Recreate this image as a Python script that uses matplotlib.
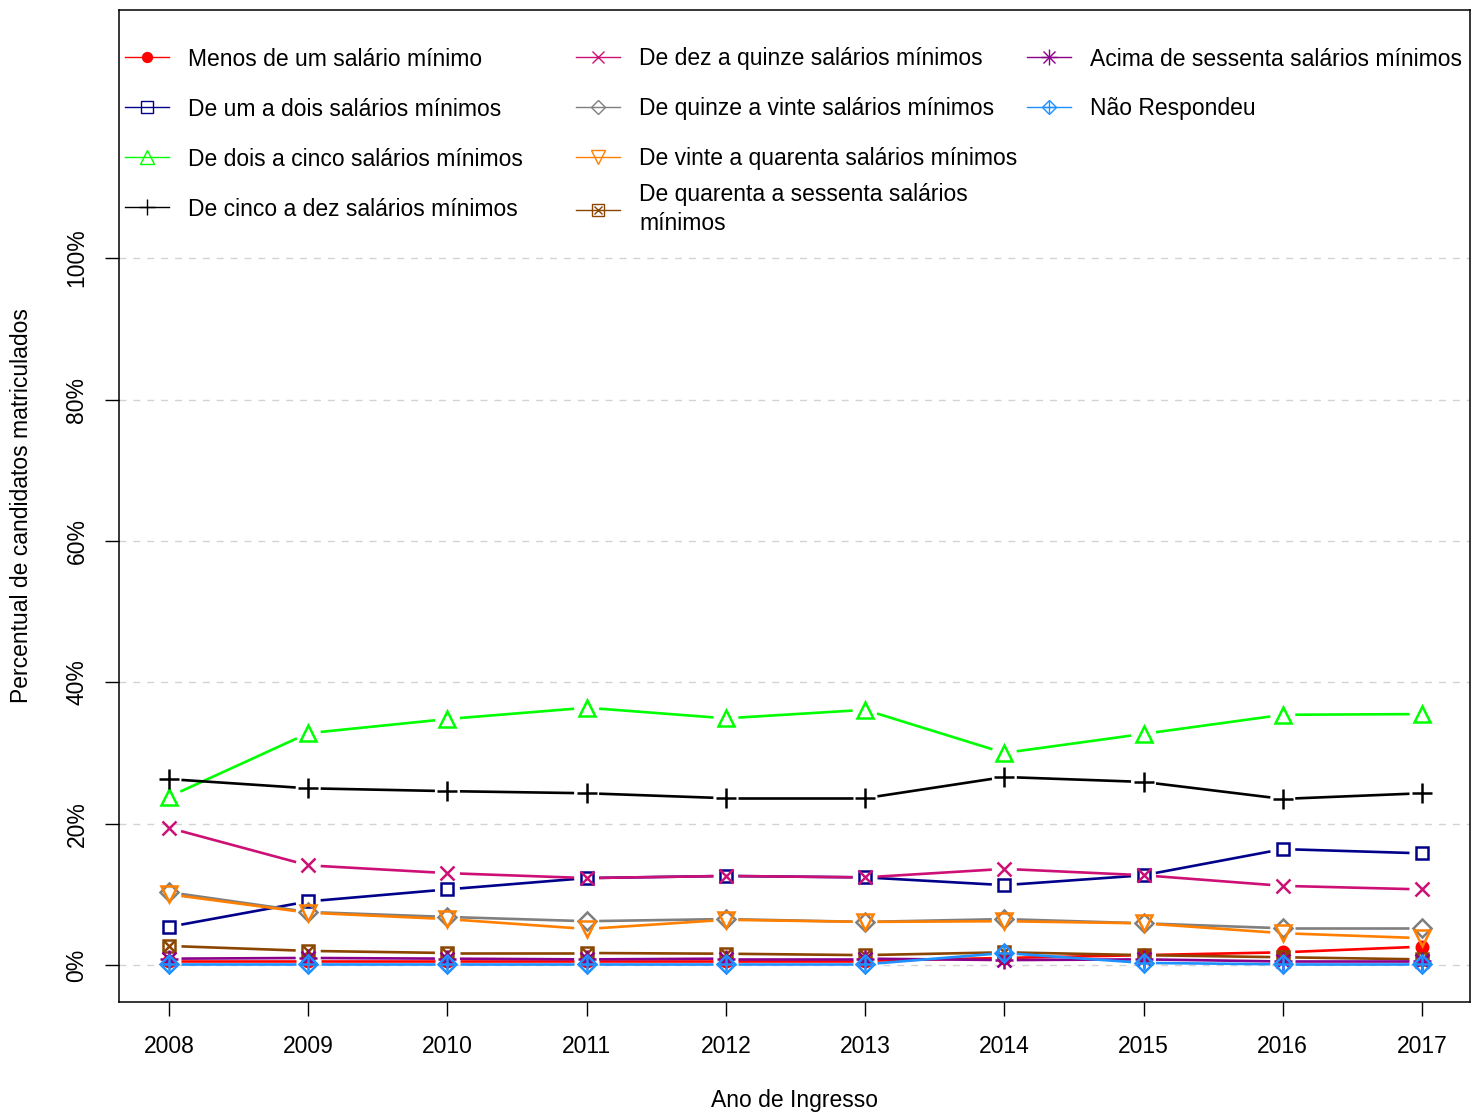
import numpy as np
import matplotlib
matplotlib.use("Agg")
import matplotlib.pyplot as plt
from matplotlib.lines import Line2D

plt.rcParams['font.family'] = ['Liberation Sans', 'DejaVu Sans']

# ---- dados ----
anos = [2008, 2009, 2010, 2011, 2012, 2013, 2014, 2015, 2016, 2017]

faixas = [
    "Menos de um salário mínimo",
    "De um a dois salários mínimos",
    "De dois a cinco salários mínimos",
    "De cinco a dez salários mínimos",
    "De dez a quinze salários mínimos",
    "De quinze a vinte salários mínimos",
    "De vinte a quarenta salários mínimos",
    "De quarenta a sessenta salários\nmínimos",
    "Acima de sessenta salários mínimos",
    "Não Respondeu",
]

menos_um = [0.6, 0.6, 0.6, 0.6, 0.6, 0.6, 1.0, 1.4, 1.8, 2.6]
um_dois = [5.4, 9.0, 10.7, 12.3, 12.6, 12.4, 11.3, 12.7, 16.4, 15.8]
dois_cinco = [23.8, 32.8, 34.8, 36.4, 34.9, 36.1, 30.0, 32.7, 35.4, 35.5]
cinco_dez = [26.3, 25.0, 24.6, 24.3, 23.6, 23.6, 26.6, 25.9, 23.5, 24.3]
dez_quinze = [19.4, 14.1, 13.0, 12.3, 12.6, 12.4, 13.6, 12.7, 11.2, 10.7]
quinze_vinte = [10.3, 7.5, 6.8, 6.2, 6.5, 6.1, 6.5, 5.9, 5.2, 5.2]
vinte_quarenta = [10.0, 7.4, 6.5, 5.1, 6.4, 6.1, 6.2, 5.9, 4.5, 3.8]
quarenta_sessenta = [2.7, 2.0, 1.7, 1.7, 1.6, 1.4, 1.8, 1.4, 1.1, 0.8]
acima_sessenta = [0.9, 1.0, 0.9, 0.8, 0.9, 0.9, 0.7, 0.8, 0.5, 0.5]
nao_respondeu = [0.1, 0.1, 0.1, 0.1, 0.1, 0.1, 1.7, 0.3, 0.1, 0.1]

series = [menos_um, um_dois, dois_cinco, cinco_dez, dez_quinze,
          quinze_vinte, vinte_quarenta, quarenta_sessenta, acima_sessenta, nao_respondeu]

cores = ["#FF0000", "#00008B", "#00FF00", "#000000", "#CD1076",
         "#7F7F7F", "#FF7F00", "#8B4500", "#8B008B", "#1E90FF"]

# simbolos estilo R (pch 16, 0, 2, 3, 4, 5, 6, 7, 8, 9): lista de (marker, escala)
simbolos = [
    [("o", 0.75)],
    [("s", 0.85)],
    [("^", 1.0)],
    [("+", 1.25)],
    [("x", 0.95)],
    [("D", 0.8)],
    [("v", 1.0)],
    [("s", 0.85), ("x", 0.6)],
    [("+", 1.2), ("x", 0.9)],
    [("D", 0.8), ("+", 0.9)],
]

# ---- figura ----
fig = plt.figure(figsize=(14.71, 11.14), dpi=100)
ax = fig.add_axes([119 / 1471, 1 - 1002 / 1114, (1470 - 119) / 1471, (1002 - 10) / 1114])
ax.set_xlim(2007.641, 2017.345)
ax.set_ylim(-5.23, 135.1)

for v in [0, 20, 40, 60, 80, 100]:
    ax.axhline(v, color="#D3D3D3", lw=1, ls=(0, (5, 5)), zorder=0)

ms_base = 11
gap = 12.5  # pixels de espaço entre linha e marcador (type = "b")


def segmentos_com_gap(xs, ys):
    tr = ax.transData
    pts = tr.transform(np.column_stack([xs, ys]))
    segs = []
    for p0, p1 in zip(pts[:-1], pts[1:]):
        d = p1 - p0
        L = np.hypot(*d)
        if L <= 2 * gap:
            continue
        u = d / L
        segs.append(tr.inverted().transform([p0 + u * gap, p1 - u * gap]))
    return segs


for vals, cor, simb in zip(series, cores, simbolos):
    for seg in segmentos_com_gap(anos, vals):
        ax.plot(seg[:, 0], seg[:, 1], color=cor, lw=1.9, solid_capstyle="butt", zorder=2)
    for mk, esc in simb:
        filled = mk == "o"
        ax.plot(anos, vals, ls="none", marker=mk, ms=ms_base * esc, color=cor,
                mfc=cor if filled else "none", mec=cor, mew=1.8, zorder=3)

# eixos
ax.set_xticks(anos)
ax.set_xticklabels([str(a) for a in anos])
ax.set_yticks([0, 20, 40, 60, 80, 100])
ax.set_yticklabels(["0%", "20%", "40%", "60%", "80%", "100%"], rotation=90, va="center")
ax.tick_params(axis="both", direction="out", length=10, width=1, labelsize=16.5, color="black")
ax.tick_params(axis="x", pad=13.5)
ax.tick_params(axis="y", pad=12)
for sp in ax.spines.values():
    sp.set_linewidth(1.1)

fig.text((119 + 1470) / 2 / 1471, 1 - 1100 / 1114, "Ano de Ingresso", ha="center", va="center", fontsize=16.5)
fig.text(22 / 1471, 1 - 506 / 1114, "Percentual de candidatos matriculados", ha="center", va="center",
         rotation=90, fontsize=16.5)

# ---- legenda: tres colunas, uma entrada por linha (como no R) ----
handles = []
for cor, simb in zip(cores, simbolos):
    h = []
    for i, (mk, esc) in enumerate(simb):
        filled = mk == "o"
        h.append(Line2D([], [], color=cor, lw=1.0 if i == 0 else 0, marker=mk, ms=9.5 * esc,
                        mfc=cor if filled else "none", mec=cor, mew=1.0))
    handles.append(tuple(h) if len(h) > 1 else h[0])

col_x = [125, 576, 1027]
linhas_por_coluna = 4
legendas = []
for k, (h, lab) in enumerate(zip(handles, faixas)):
    col, lin = divmod(k, linhas_por_coluna)
    ypx = 59 + 50 * lin
    leg = ax.legend([h], [lab], loc="center left",
                    bbox_to_anchor=((col_x[col] - 119) / 1351, 1 - (ypx - 10) / 992),
                    frameon=False, fontsize=16.5, handlelength=1.9, handletextpad=0.85,
                    borderpad=0, borderaxespad=0)
    for t in leg.get_texts():
        t.set_linespacing(1.3)
    legendas.append(leg)
for leg in legendas[:-1]:
    ax.add_artist(leg)

fig.savefig("out.png", dpi=100)
